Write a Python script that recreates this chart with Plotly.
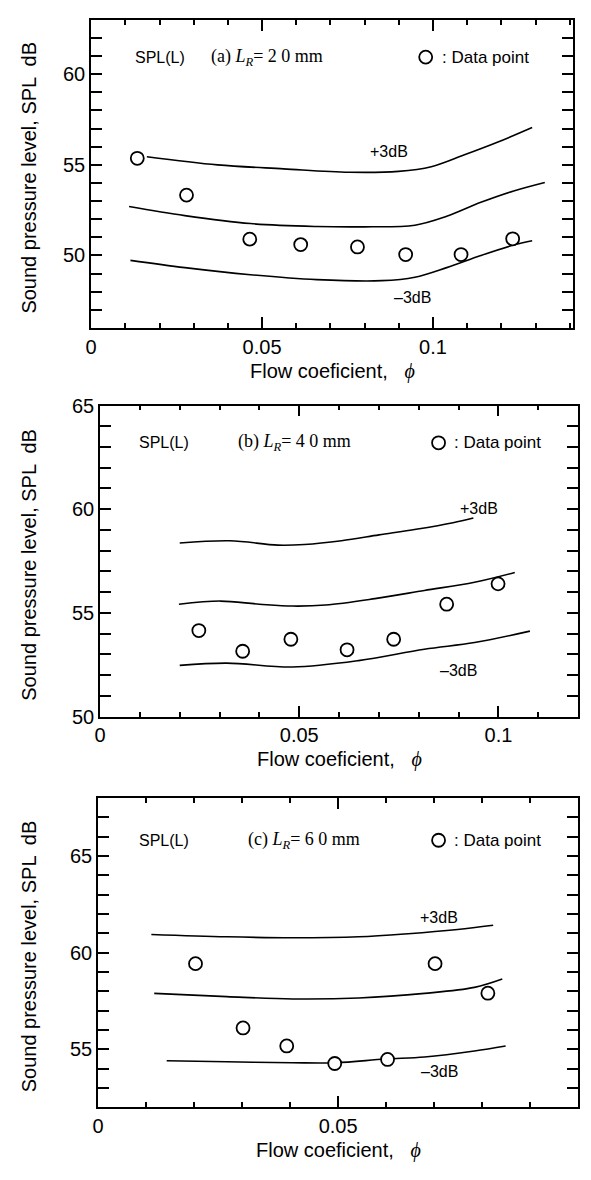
import plotly.graph_objects as go

W, H = 591, 1180

# ---------------- data ----------------
# Panel (a)  L_R = 20 mm
a_phi = [0.0135, 0.0279, 0.0464, 0.0613, 0.0779, 0.0920, 0.1082, 0.1233]
a_spl = [55.36, 53.33, 50.90, 50.60, 50.47, 50.05, 50.05, 50.92]
a_up_phi = [0.0163, 0.037, 0.0563, 0.0755, 0.0899, 0.0995, 0.109, 0.119, 0.129]
a_up_spl = [55.45, 55.0, 54.78, 54.59, 54.64, 54.9, 55.54, 56.26, 57.06]
a_mid_phi = [0.0111, 0.0274, 0.0466, 0.0659, 0.080, 0.0947, 0.104, 0.114, 0.1236, 0.1327]
a_mid_spl = [52.7, 52.2, 51.76, 51.6, 51.58, 51.67, 52.16, 52.93, 53.56, 54.03]
a_lo_phi = [0.0115, 0.0274, 0.0466, 0.066, 0.085, 0.0947, 0.104, 0.114, 0.124, 0.129]
a_lo_spl = [49.73, 49.33, 48.94, 48.67, 48.61, 48.8, 49.33, 50.0, 50.6, 50.81]

# Panel (b)  L_R = 40 mm
b_phi = [0.0248, 0.0358, 0.0479, 0.0620, 0.0737, 0.0870, 0.0999]
b_spl = [54.15, 53.15, 53.73, 53.22, 53.73, 55.42, 56.40]
b_up_phi = [0.020, 0.0326, 0.0446, 0.0513, 0.0606, 0.070, 0.0793, 0.0886, 0.0937]
b_up_spl = [58.37, 58.48, 58.27, 58.30, 58.48, 58.76, 59.03, 59.35, 59.58]
b_mid_phi = [0.0198, 0.0302, 0.040, 0.0483, 0.0566, 0.069, 0.0814, 0.094, 0.1041]
b_mid_spl = [55.42, 55.57, 55.42, 55.33, 55.38, 55.69, 56.08, 56.48, 56.95]
b_lo_phi = [0.020, 0.0318, 0.0483, 0.0649, 0.0814, 0.094, 0.1079]
b_lo_spl = [52.47, 52.58, 52.39, 52.70, 53.25, 53.57, 54.12]

# Panel (c)  L_R = 60 mm
c_phi = [0.0203, 0.0302, 0.0393, 0.0493, 0.0603, 0.0702, 0.0812]
c_spl = [59.43, 56.10, 55.17, 54.26, 54.47, 59.43, 57.90]
c_up_phi = [0.0111, 0.0268, 0.0405, 0.0543, 0.0646, 0.0749, 0.0823]
c_up_spl = [60.94, 60.82, 60.77, 60.82, 60.98, 61.20, 61.42]
c_mid_phi = [0.0117, 0.0268, 0.0405, 0.0543, 0.068, 0.0784, 0.0842]
c_mid_spl = [57.89, 57.72, 57.60, 57.65, 57.89, 58.20, 58.63]
c_lo_phi = [0.0143, 0.0268, 0.0405, 0.0495, 0.0598, 0.068, 0.0784, 0.0849]
c_lo_spl = [54.40, 54.35, 54.30, 54.30, 54.49, 54.60, 54.91, 55.17]

x_ranges = [[0, 0.141], [0, 0.12], [0, 0.1]]
y_ranges = [[46, 63], [50, 65], [52, 68]]
panel_labels = ["(a)", "(b)", "(c)"]
lengths = ["2 0 mm", "4 0 mm", "6 0 mm"]

# ---------------- layout geometry (pixels) ----------------
frames = [  # left, right, top, bottom
    (86, 573, 9, 323),
    (95, 578, 402, 719),
    (93, 578, 802, 1117),
]
header_px = [  # y, spl_x, title_x, circle_x, text_x
    (47, 128, 205, 424, 438),
    (440, 132, 232, 437, 451),
    (845, 132, 242, 437, 451),
]
db_labels = [  # (+3dB x, y), (-3dB x, y)
    ((0.087, 55.72), (0.094, 47.7)),
    ((0.095, 60.05), (0.090, 52.23)),
    ((0.0711, 61.8), (0.0711, 53.84)),
]

SANS = "Liberation Sans, Arial, sans-serif"
SERIF = "Liberation Serif, DejaVu Serif, serif"

def px_x(p):
    return p / W

def px_y(p):
    return 1 - p / H

fig = go.Figure()

panels = [
    (a_phi, a_spl, [(a_up_phi, a_up_spl), (a_mid_phi, a_mid_spl), (a_lo_phi, a_lo_spl)]),
    (b_phi, b_spl, [(b_up_phi, b_up_spl), (b_mid_phi, b_mid_spl), (b_lo_phi, b_lo_spl)]),
    (c_phi, c_spl, [(c_up_phi, c_up_spl), (c_mid_phi, c_mid_spl), (c_lo_phi, c_lo_spl)]),
]

annotations = []
shapes = []
for i, (px, py, curves) in enumerate(panels):
    n = "" if i == 0 else str(i + 1)
    xa, ya = "x" + n, "y" + n
    for cx, cy in curves:
        fig.add_trace(go.Scatter(x=cx, y=cy, mode="lines", xaxis=xa, yaxis=ya,
                                 line=dict(color="black", width=1.6, shape="spline", smoothing=1.0),
                                 showlegend=False, hoverinfo="skip"))
    fig.add_trace(go.Scatter(x=px, y=py, mode="markers", xaxis=xa, yaxis=ya,
                             marker=dict(symbol="circle", size=13, color="white",
                                         line=dict(color="black", width=1.8)),
                             showlegend=False))
    l, r, t, b = frames[i]
    axis_common = dict(showline=True, linecolor="black", linewidth=1.8, mirror="allticks",
                       ticks="inside", tickcolor="black", tickwidth=1.5, showgrid=False,
                       zeroline=False, tickfont=dict(family=SANS, size=20, color="black"))
    fig.update_layout(**{
        "xaxis" + n: dict(domain=[px_x(l), px_x(r)], range=x_ranges[i], anchor=ya,
                          tick0=0, dtick=0.05, ticklen=11,
                          minor=dict(dtick=0.01, tick0=0, ticklen=5, ticks="inside",
                                     tickcolor="black", tickwidth=1.5, showgrid=False),
                          **axis_common),
        "yaxis" + n: dict(domain=[px_y(b), px_y(t)], range=y_ranges[i], anchor=xa,
                          tick0=0, dtick=5, ticklen=11,
                          minor=dict(dtick=1, tick0=0, ticklen=11, ticks="inside",
                                     tickcolor="black", tickwidth=1.5, showgrid=False),
                          **axis_common),
    })
    # axis titles
    annotations.append(dict(x=px_x((l + r) / 2), y=px_y(b + 44), xref="paper", yref="paper",
                            text="Flow coeficient,   <i><span style='font-family:Liberation Serif'>\u03d5</span></i>",
                            showarrow=False,
                            font=dict(family=SANS, size=20, color="black"),
                            xanchor="center", yanchor="middle"))
    annotations.append(dict(x=px_x(23), y=px_y((t + b) / 2 + 4), xref="paper", yref="paper",
                            text="Sound pressure level, SPL  dB", showarrow=False, textangle=-90,
                            font=dict(family=SANS, size=20, color="black"),
                            xanchor="center", yanchor="middle"))
    # header texts
    hy, sx, tx, cx, txx = header_px[i]
    annotations.append(dict(x=px_x(sx), y=px_y(hy), xref="paper", yref="paper", text="SPL(L)",
                            showarrow=False, xanchor="left", yanchor="middle",
                            font=dict(family=SANS, size=16, color="black")))
    annotations.append(dict(x=px_x(tx), y=px_y(hy), xref="paper", yref="paper",
                            text=panel_labels[i] + " <i>L</i><sub><i>R</i></sub>= " + lengths[i],
                            showarrow=False, xanchor="left", yanchor="middle",
                            font=dict(family=SERIF, size=18, color="black")))
    annotations.append(dict(x=px_x(txx), y=px_y(hy), xref="paper", yref="paper",
                            text=": Data point", showarrow=False, xanchor="left", yanchor="middle",
                            font=dict(family=SANS, size=17, color="black")))
    shapes.append(dict(type="circle", xref="paper", yref="paper", xsizemode="pixel",
                       ysizemode="pixel", xanchor=px_x(cx), yanchor=px_y(hy),
                       x0=-6.5, x1=6.5, y0=-6.5, y1=6.5,
                       line=dict(color="black", width=1.8), fillcolor="white"))
    # +3dB / -3dB
    (ux, uy), (lx, ly) = db_labels[i]
    annotations.append(dict(x=ux, y=uy, xref=xa, yref=ya, text="+3dB", showarrow=False,
                            font=dict(family=SANS, size=16, color="black")))
    annotations.append(dict(x=lx, y=ly, xref=xa, yref=ya, text="\u20133dB", showarrow=False,
                            font=dict(family=SANS, size=16, color="black")))

fig.update_layout(width=W, height=H, margin=dict(l=0, r=0, t=0, b=0),
                  paper_bgcolor="white", plot_bgcolor="white",
                  annotations=annotations, shapes=shapes, showlegend=False)

fig.write_html("out.html", config={"displayModeBar": False})
